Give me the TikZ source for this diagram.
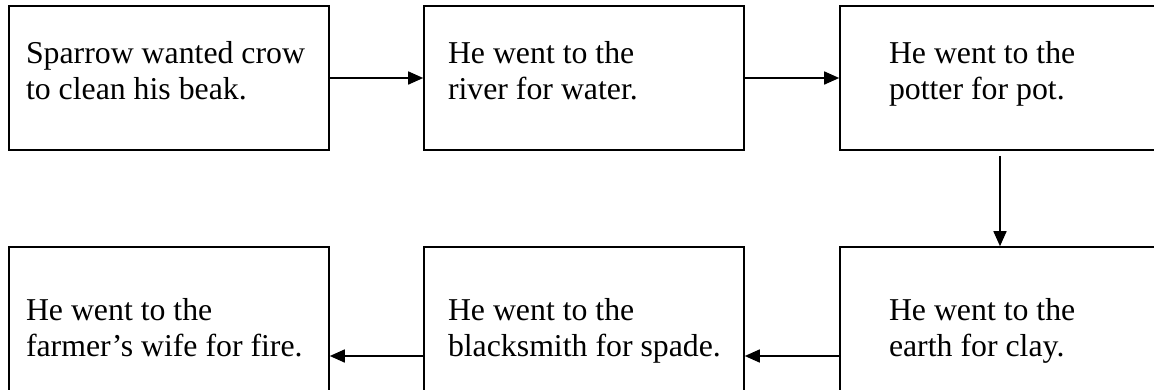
\documentclass[tikz,border=0pt]{standalone}
\usepackage{fontspec}
\setmainfont{Liberation Serif}
\usetikzlibrary{arrows.meta}

\begin{document}
\begin{tikzpicture}
  [x=1pt,y=-1pt,line width=1.6pt,
   box/.style={draw,rectangle,minimum width=320pt,minimum height=144pt,inner sep=0pt},
   lowbox/.style={box,minimum height=218pt},
   txt/.style={anchor=north west,inner sep=0pt,align=left,
     font=\fontsize{31.8}{36}\selectfont},
   link/.style={-{Triangle[length=15pt,width=13pt]}}]
  \useasboundingbox (0,0) rectangle (1154,389);
  \clip (0,0) rectangle (1154,389);

  \node[box] (sparrow) at (169,78)  {};
  \node[box] (river)   at (584,78)  {};
  \node[box] (potter)  at (1000,78) {};
  \node[lowbox] (earth)  at (1000,356) {};
  \node[lowbox] (smith)  at (584,356)  {};
  \node[lowbox] (farmer) at (169,356)  {};

  \node[txt] (tsparrow) at ([xshift=17pt,yshift=-35pt]sparrow.north west) {Sparrow wanted crow\\to clean his beak.};
  \node[txt] (triver)   at ([xshift=24pt,yshift=-35pt]river.north west)   {He went to the\\river for water.};
  \node[txt] (tpotter)  at ([xshift=49pt,yshift=-35pt]potter.north west)  {He went to the\\potter for pot.};
  \node[txt] (tearth)   at ([xshift=49pt,yshift=-51pt]earth.north west)   {He went to the\\earth for clay.};
  \node[txt] (tsmith)   at ([xshift=24pt,yshift=-51pt]smith.north west)   {He went to the\\blacksmith for spade.};
  \node[txt] (tfarmer)  at ([xshift=17pt,yshift=-51pt]farmer.north west)  {He went to the\\farmer’s wife for fire.};

  \foreach \from/\to in {sparrow/river, river/potter, earth/smith, smith/farmer}
    \draw[link] (\from) -- (\to);
  \draw[link,shorten <=5pt] (potter) -- (earth);

\end{tikzpicture}
\end{document}
